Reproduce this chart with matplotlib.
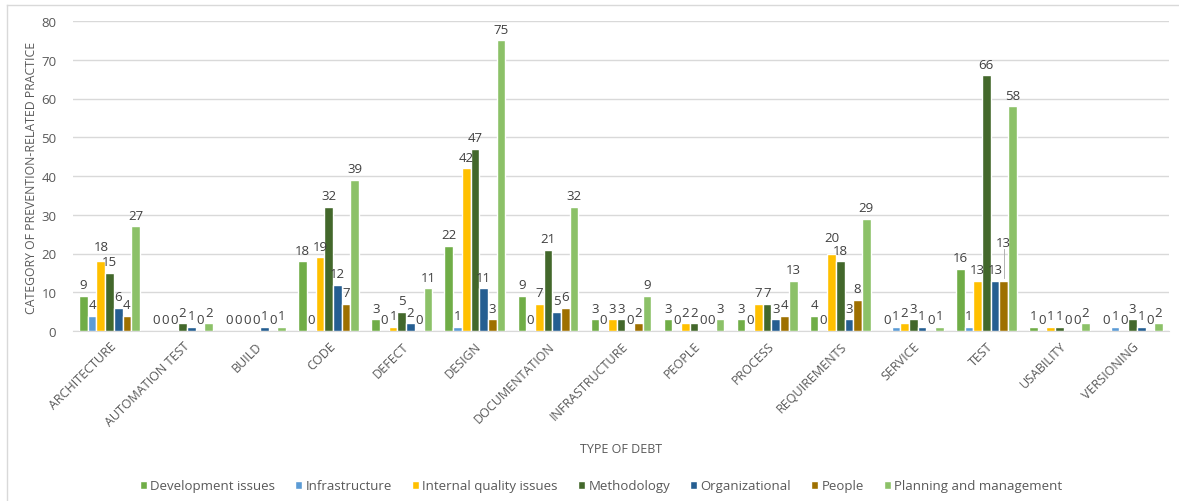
import numpy as np
import matplotlib.pyplot as plt
from matplotlib.lines import Line2D

plt.rcParams['font.family'] = ['Open Sans', 'DejaVu Sans']

categories = ["ARCHITECTURE", "AUTOMATION TEST", "BUILD", "CODE", "DEFECT", "DESIGN",
              "DOCUMENTATION", "INFRASTRUCTURE", "PEOPLE", "PROCESS", "REQUIREMENTS",
              "SERVICE", "TEST", "USABILITY", "VERSIONING"]

series_names = ["Development issues", "Infrastructure", "Internal quality issues",
                "Methodology", "Organizational", "People", "Planning and management"]

development = [9, 0, 0, 18, 3, 22, 9, 3, 3, 3, 4, 0, 16, 1, 0]
infrastructure = [4, 0, 0, 0, 0, 1, 0, 0, 0, 0, 0, 1, 1, 0, 1]
internal_quality = [18, 0, 0, 19, 1, 42, 7, 3, 2, 7, 20, 2, 13, 1, 0]
methodology = [15, 2, 0, 32, 5, 47, 21, 3, 2, 7, 18, 3, 66, 1, 3]
organizational = [6, 1, 1, 12, 2, 11, 5, 0, 0, 3, 3, 1, 13, 0, 1]
people = [4, 0, 0, 7, 0, 3, 6, 2, 0, 4, 8, 0, 13, 0, 0]
planning = [27, 2, 1, 39, 11, 75, 32, 9, 3, 13, 29, 1, 58, 2, 2]

colors = ["#70AD47", "#5B9BD5", "#FFC000", "#43682B", "#255E91", "#9E7000", "#8CC168"]

data = [development, infrastructure, internal_quality, methodology,
        organizational, people, planning]

# (category, series) labels pushed up to clear a neighbour; big lifts get a leader line
label_lift = {(12, 5): 7.0, (10, 2): 1.2, (0, 2): 0.8}

W, H = 1179, 502
fig = plt.figure(figsize=(W / 100, H / 100), dpi=100)
ax = fig.add_axes([73 / W, 1 - 332 / H, (1169 - 73) / W, (332 - 22) / H])

x = np.arange(len(categories))
slot = 0.119
for i, (vals, name, col) in enumerate(zip(data, series_names, colors)):
    pos = x + (i - 3) * slot
    bars = ax.bar(pos, vals, width=slot, color=col, edgecolor="white",
                  linewidth=1.0, label=name, zorder=3)
    for j, (b, v) in enumerate(zip(bars, vals)):
        cx = b.get_x() + b.get_width() / 2
        lift = label_lift.get((j, i), 0.0)
        ax.text(cx, v + 1.2 + lift, str(v), ha="center", va="bottom",
                fontsize=9.5, color="#404040", zorder=4)
        if lift > 3:
            ax.plot([cx, cx], [v + 0.8, v + 1.2 + lift], color="#A6A6A6",
                    linewidth=0.6, zorder=4)

ax.set_xlim(-0.5, len(categories) - 0.5)
ax.set_ylim(0, 80)
ax.set_yticks(range(0, 81, 10))
ax.yaxis.grid(True, color="#D9D9D9", linewidth=1, zorder=0)
ax.tick_params(axis="y", length=0, labelsize=9.5, labelcolor="#595959", pad=12)
ax.tick_params(axis="x", length=0, pad=6)
ax.set_xticks(x)
ax.set_xticklabels(categories, rotation=45, ha="right", rotation_mode="anchor",
                   fontsize=9, color="#595959")
for s in ["top", "right", "left"]:
    ax.spines[s].set_visible(False)
ax.spines["bottom"].set_color("#D9D9D9")

fig.text(32 / W, 1 - 178 / H, "CATEGORY OF PREVENTION-RELATED PRACTICE", rotation=90,
         ha="center", va="center", fontsize=8.8, color="#595959")
fig.text(621 / W, 1 - 450 / H, "TYPE OF DEBT", ha="center", va="center", fontsize=9,
         color="#595959")

fig.legend(loc="center", bbox_to_anchor=(601 / W, 1 - 487 / H), ncol=7, frameon=False,
           fontsize=9.5, handlelength=0.55, handleheight=0.55, handletextpad=0.25,
           columnspacing=1.5, labelcolor="#595959")

# chart-area border along the top and left edges
fig.add_artist(Line2D([7 / W, 1], [1 - 6 / H] * 2, transform=fig.transFigure,
                      color="#D9D9D9", linewidth=1))
fig.add_artist(Line2D([7 / W] * 2, [0, 1 - 6 / H], transform=fig.transFigure,
                      color="#D9D9D9", linewidth=1))

fig.savefig("out.png", dpi=100)
